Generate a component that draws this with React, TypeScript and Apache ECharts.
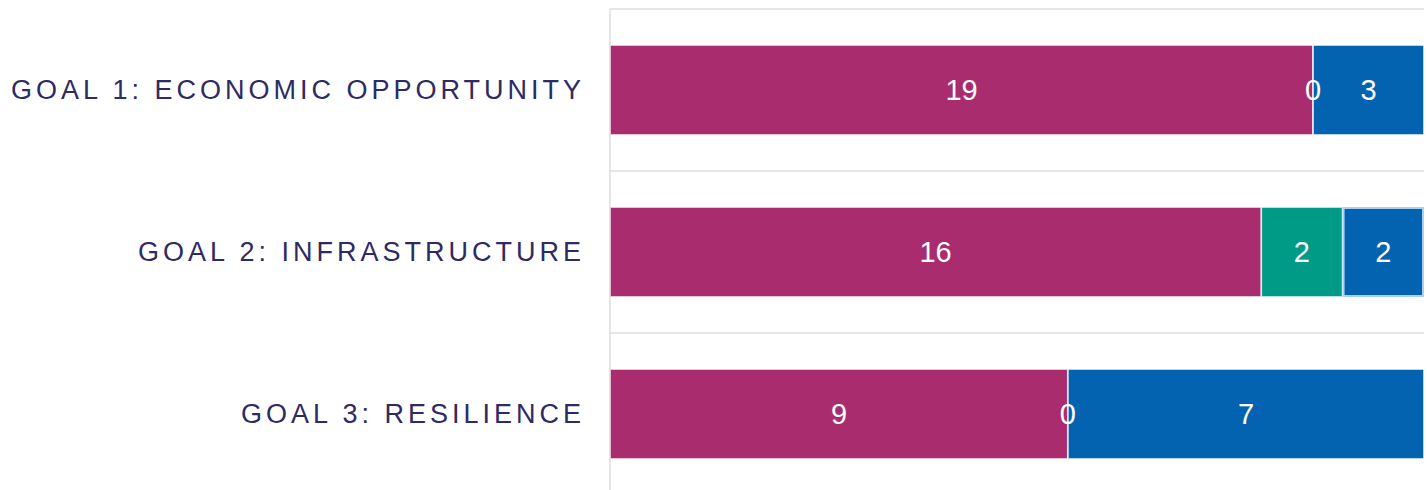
import React, { useEffect, useRef } from "react";
import * as echarts from "echarts";

const categories = [
  "GOAL 1: ECONOMIC OPPORTUNITY",
  "GOAL 2: INFRASTRUCTURE",
  "GOAL 3: RESILIENCE",
];
const seriesNames = ["Series 1", "Series 2", "Series 3"];
const series1 = [19, 16, 9];
const series2 = [0, 2, 0];
const series3 = [3, 2, 7];
const colors = ["#a82c6e", "#009b87", "#0463b1"];

export default function App() {
  const ref = useRef<HTMLDivElement>(null);

  useEffect(() => {
    if (!ref.current) return;
    const chart = echarts.init(ref.current, undefined, { renderer: "svg" });
    const raw = [series1, series2, series3];
    const totals = categories.map((_, i) => raw.reduce((s, arr) => s + arr[i], 0));

    const mkSeries = (k: number) => ({
      name: seriesNames[k],
      type: "bar",
      stack: "total",
      barWidth: 90,
      data: raw[k].map((v, i) => {
        const item: any = { value: (v / totals[i]) * 100 };
        if (k === 2 && i === 1) {
          item.itemStyle = { borderColor: "#a6d1f7", borderWidth: 2 };
        }
        return item;
      }),
      itemStyle: {
        color: colors[k],
        borderColor: "rgba(255,255,255,0.45)",
        borderWidth: 1,
      },
      label: {
        show: true,
        position: "inside",
        color: "#ffffff",
        fontSize: 29,
        fontFamily: "Liberation Sans, Arial, sans-serif",
        formatter: (p: any) => String(raw[k][p.dataIndex]),
      },
      emphasis: { disabled: true },
    });

    chart.setOption({
      animation: false,
      grid: { left: 610, right: 3, top: 9, bottom: 0, containLabel: false },
      xAxis: {
        type: "value",
        min: 0,
        max: 100,
        show: false,
      },
      yAxis: {
        type: "category",
        inverse: true,
        data: categories,
        axisLine: { show: true, lineStyle: { color: "#e6e6e6", width: 2 } },
        axisTick: { show: false },
        splitLine: { show: true, lineStyle: { color: "#e6e6e6", width: 2 } },
        axisLabel: {
          color: "#2e2a64",
          fontSize: 27,
          fontFamily: "Liberation Sans, Arial, sans-serif",
          margin: 25,
        },
      },
      series: [mkSeries(0), mkSeries(1), mkSeries(2)],
    });

    const applySpacing = () => {
      if (!ref.current) return;
      ref.current.querySelectorAll("text").forEach((t) => {
        const s = t.textContent || "";
        if (categories.includes(s)) {
          (t as SVGTextElement).style.letterSpacing = "4px";
        }
      });
    };
    applySpacing();
    chart.on("finished", applySpacing);

    return () => {
      chart.dispose();
    };
  }, []);

  return (
    <div
      style={{
        position: "absolute",
        left: 0,
        top: 0,
        width: 1427,
        height: 490,
        overflow: "hidden",
      }}
    >
      <div ref={ref} style={{ width: 1427, height: 495 }} />
    </div>
  );
}
